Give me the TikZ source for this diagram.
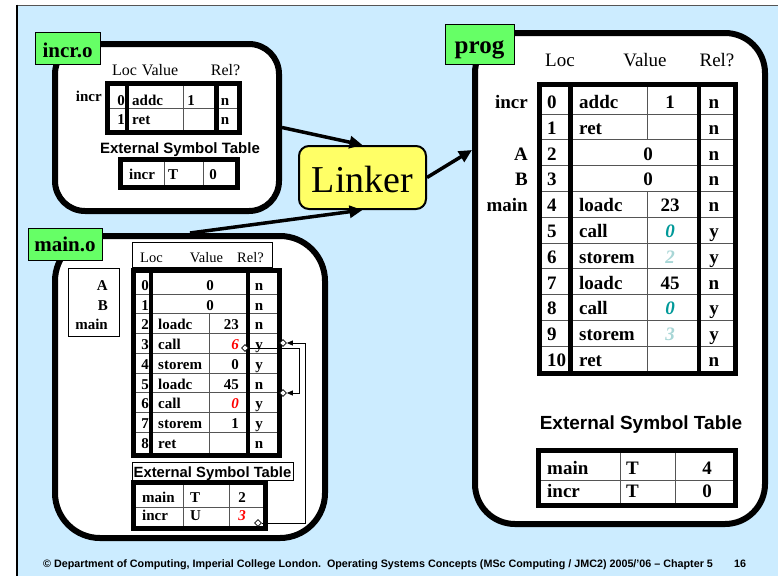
\documentclass[tikz,border=0pt]{standalone}
\usepackage{fontspec}
\setmainfont{Liberation Serif}
\setsansfont{Liberation Sans}
\usetikzlibrary{arrows.meta,shapes.geometric}

\definecolor{panel}{HTML}{CCECFF}
\definecolor{tagfill}{HTML}{66FF66}
\definecolor{linkfill}{HTML}{FFFF66}
\definecolor{relteal}{HTML}{009999}
\definecolor{relpale}{HTML}{A8D6D6}
\definecolor{rule}{HTML}{555555}

\newcommand\fsz[1]{\fontsize{#1}{#1}\selectfont}
\newcommand\vteal[1]{\textcolor{relteal}{\textit{#1}}}
\newcommand\vpale[1]{\textcolor{relpale}{\textit{#1}}}
\newcommand\vred[1]{\textcolor{red}{\textit{#1}}}

\begin{document}
\begin{tikzpicture}[x=1pt,y=-1pt,
  objbox/.style={draw=black,line width=6pt,fill=white,rounded corners=#1,inner sep=0pt},
  tagbox/.style={draw=black,line width=0.8pt,fill=tagfill,inner sep=0pt},
  tagtext/.style={inner sep=0pt,font=\fsz{21}\bfseries},
  thickrule/.style={line width=5pt},
  colrule/.style={line width=4.5pt},
  thinrule/.style={line width=1pt,draw=rule},
  framebox/.style={draw=black,line width=0.8pt},
  link/.style={line width=3.5pt,-{Triangle[length=13pt,width=12pt]}},
  ptr/.style={line width=0.8pt,-{Triangle[length=6pt,width=5pt]}},
  diam/.style={diamond,draw=black,fill=white,line width=0.7pt,inner sep=0pt,minimum width=7pt,minimum height=7pt},
  pcell/.style={inner sep=0pt,font=\fsz{19}\bfseries},
  phead/.style={inner sep=0pt,font=\fsz{19}},
  mcell/.style={inner sep=0pt,font=\fsz{15}\bfseries},
  mhead/.style={inner sep=0pt,font=\fsz{14.5}},
  ihead/.style={inner sep=0pt,font=\fsz{16}},
  esthead/.style={inner sep=0pt,font=\sffamily\bfseries\fsz{#1}},
  foot/.style={inner sep=0pt,anchor=base west,font=\sffamily\bfseries\fsz{10.75}},
]
\useasboundingbox (0,0) rectangle (778,576);

% slide background
\fill[panel] (17,5) rectangle (778,576);
\draw[line width=1pt,draw=rule] (17,5) -- (778,5);
\draw[line width=2.7pt] (17,4.5) -- (17,576);

% ---------------- object boxes ----------------
\node[objbox=30pt,minimum width=224pt,minimum height=167pt] (incrbox) at (167,127.5) {};
\node[objbox=45pt,minimum width=270pt,minimum height=302pt] (mainbox) at (190,387) {};
\node[objbox=40pt,minimum width=290pt,minimum height=491pt] (progbox) at (620,278.5) {};

% linker
\node[draw=black,line width=2pt,fill=linkfill,rounded corners=10pt,
      minimum width=127pt,minimum height=63pt,inner sep=0pt] (linker) at (362.5,177.5) {};
\node[inner sep=0pt,anchor=base,font=\fsz{38}] (linkertext) at (362.5,192) {Linker};

\coordinate (progin) at (472,150);
\draw[link] (incrbox.east) -- (linker.north);
\draw[link] (mainbox.north) -- (linker.south);
\draw[link] (linker.east) -- (progin);

% ---------------- incr.o ----------------
\node[tagbox,minimum width=65pt,minimum height=32pt] (incrtag) at (67.5,48) {};
\node[tagtext,anchor=base] (incrtagtext) at (67.5,57) {incr.o};

\node[ihead,anchor=base] (ihloc) at (124.5,75) {Loc};
\node[ihead,anchor=base] (ihval) at (160,75) {Value};
\node[ihead,anchor=base] (ihrel) at (225.5,75) {Rel?};

\draw[thinrule] (107.5,108) -- (239,108);
\draw[thinrule] (183,83.5) -- (183,132.5);
\draw[colrule] (127,83.5) -- (127,132.5);
\draw[colrule] (216.5,83.5) -- (216.5,132.5);
\draw[thickrule] (107.5,83.5) rectangle (239,132.5);

\node[mcell,anchor=base east] (isym) at (102,101) {incr};
\node[mcell,anchor=base east] (iloc0) at (125,105) {0};
\node[mcell,anchor=base west] (iop0) at (132,105) {addc};
\node[mcell,anchor=base] (ival0) at (191,105) {1};
\node[mcell,anchor=base] (irel0) at (225,105) {n};
\node[mcell,anchor=base east] (iloc1) at (125,124) {1};
\node[mcell,anchor=base west] (iop1) at (132,124) {ret};
\node[mcell,anchor=base] (irel1) at (225,124) {n};

\node[esthead=15,anchor=base] (iesthead) at (180,153) {External Symbol Table};
\draw[thinrule] (164,159.5) -- (164,187.5);
\draw[thinrule] (203,159.5) -- (203,187.5);
\draw[thickrule] (120,159.5) rectangle (237.5,187.5);
\node[mcell,anchor=base west] (iesym) at (129,179) {incr};
\node[mcell,anchor=base west] (ietype) at (168,179) {T};
\node[mcell,anchor=base] (ieval) at (213,179) {0};

% ---------------- main.o ----------------
\node[tagbox,minimum width=74pt,minimum height=32pt] (maintag) at (65,244) {};
\node[tagtext,anchor=base] (maintagtext) at (65,251) {main.o};

\draw[framebox] (68,268) rectangle (119,336);
\node[mcell,anchor=base east] (msymA) at (108,290.5) {A};
\node[mcell,anchor=base east] (msymB) at (108,310.2) {B};
\node[mcell,anchor=base east] (msymM) at (108,329.9) {main};

\draw[framebox] (132,242) rectangle (272,267);
\node[mhead,anchor=base] (mhloc) at (151.5,262) {Loc};
\node[mhead,anchor=base] (mhval) at (206.5,262) {Value};
\node[mhead,anchor=base] (mhrel) at (250.5,262) {Rel?};

\foreach \k in {1,...,8}
  \draw[thinrule] (133,{274.5+19.7*\k}) -- (279,{274.5+19.7*\k});
\draw[thinrule] (209,313.9) -- (209,455);
\draw[colrule] (151,270.5) -- (151,455.5);
\draw[colrule] (248,270.5) -- (248,455.5);
\draw[thickrule] (133,270.5) rectangle (279,455.5);

\foreach \k/\rel in {0/n,1/n,2/n,3/y,4/y,5/n,6/y,7/y,8/n}{
  \node[mcell,anchor=base east] (mloc\k) at (149,{290.5+19.7*\k}) {\k};
  \node[mcell,anchor=base] (mrel\k) at (259,{290.5+19.7*\k}) {\rel};
}
\node[mcell,anchor=base] (mval0) at (210,290.5) {0};
\node[mcell,anchor=base] (mval1) at (210,310.2) {0};
\foreach \k/\op/\val in {2/loadc/23,3/call/\vred{6},4/storem/0,5/loadc/45,6/call/\vred{0},7/storem/1,8/ret/}{
  \node[mcell,anchor=base west] (mop\k) at (158,{290.5+19.7*\k}) {\op};
  \node[mcell,anchor=base east] (mval\k) at (239,{290.5+19.7*\k}) {\val};
}

\draw[framebox] (132,462) rectangle (293,480);
\node[esthead=14.8,anchor=base] (mesthead) at (212.5,477) {External Symbol Table};
\draw[thinrule] (133.5,507) -- (265.5,507);
\draw[thinrule] (183,482.5) -- (183,528.5);
\draw[thinrule] (229,482.5) -- (229,528.5);
\draw[thickrule] (133.5,482.5) rectangle (265.5,528.5);
\node[mcell,anchor=base west] (mesym0) at (142,502) {main};
\node[mcell,anchor=base west] (metype0) at (190,502) {T};
\node[mcell,anchor=base] (meval0) at (242,502) {2};
\node[mcell,anchor=base west] (mesym1) at (142,520) {incr};
\node[mcell,anchor=base west] (metype1) at (190,520) {U};
\node[mcell,anchor=base] (meval1) at (242,520) {\vred{3}};

% relocation pointers
\node[diam] (dEst) at (258,523) {};
\node[diam] (dVal3) at (245,348) {};
\node[diam] (dRel3) at (283,343) {};
\node[diam] (dRel6) at (283,393) {};
\coordinate (bendA) at (305,523);
\coordinate (bendB) at (305,343);
\coordinate (bendC) at (299,348);
\coordinate (bendD) at (299,393);
\draw[ptr] (dEst.east) -- (bendA) -- (bendB) -- (dRel3.east);
\draw[ptr] (dVal3.east) -- (bendC) -- (bendD) -- (dRel6.east);

% ---------------- prog ----------------
\node[tagbox,minimum width=69pt,minimum height=40pt] (progtag) at (479.5,44) {};
\node[tagtext,font=\fsz{25}\bfseries,anchor=base] (progtagtext) at (479.5,53) {prog};

\node[phead,anchor=base] (phloc) at (560,66) {Loc};
\node[phead,anchor=base] (phval) at (645,66) {Value};
\node[phead,anchor=base] (phrel) at (717,66) {Rel?};

\foreach \k in {1,...,10}
  \draw[thinrule] (539,{88.3+25.8*\k}) -- (735,{88.3+25.8*\k});
\draw[thinrule] (647,84.5) -- (647,139.9);
\draw[thinrule] (647,191.5) -- (647,373.5);
\draw[colrule] (570.5,84.5) -- (570.5,376);
\draw[colrule] (699,84.5) -- (699,376);
\draw[thickrule] (539,84.5) rectangle (735,373.5);

\node[pcell,anchor=base east] (psymI) at (528,108.5) {incr};
\node[pcell,anchor=base east] (psymA) at (528,160.1) {A};
\node[pcell,anchor=base east] (psymB) at (528,185.9) {B};
\node[pcell,anchor=base east] (psymM) at (528,211.7) {main};

\foreach \k/\rel in {0/n,1/n,2/n,3/n,4/n,5/y,6/y,7/n,8/y,9/y,10/n}{
  \node[pcell,anchor=base west] (ploc\k) at (547,{108.5+25.8*\k}) {\k};
  \node[pcell,anchor=base] (prel\k) at (714,{108.5+25.8*\k}) {\rel};
}
\node[pcell,anchor=base] (pval2) at (648,160.1) {0};
\node[pcell,anchor=base] (pval3) at (648,185.9) {0};
\foreach \k/\op/\val in {0/addc/1,1/ret/,4/loadc/23,5/call/\vteal{0},6/storem/\vpale{2},7/loadc/45,8/call/\vteal{0},9/storem/\vpale{3},10/ret/}{
  \node[pcell,anchor=base west] (pop\k) at (579,{108.5+25.8*\k}) {\op};
  \node[pcell,anchor=base] (pval\k) at (670,{108.5+25.8*\k}) {\val};
}

\node[esthead=19,anchor=base] (pesthead) at (641,429) {External Symbol Table};
\draw[thinrule] (538.5,480.7) -- (735,480.7);
\draw[thinrule] (620,450) -- (620,505.5);
\draw[thinrule] (675,450) -- (675,505.5);
\draw[thickrule] (538.5,450) rectangle (735,505.5);
\node[pcell,anchor=base west] (pesym0) at (547,474) {main};
\node[pcell,anchor=base west] (petype0) at (626,474) {T};
\node[pcell,anchor=base] (peval0) at (707,474) {4};
\node[pcell,anchor=base west] (pesym1) at (547,497) {incr};
\node[pcell,anchor=base west] (petype1) at (626,497) {T};
\node[pcell,anchor=base] (peval1) at (707,497) {0};

% ---------------- footer ----------------
\node[foot] (footer) at (43,567)
  {© Department of Computing, Imperial College London.\ \ Operating Systems Concepts (MSc Computing / JMC2) 2005/'06 – Chapter 5};
\node[foot] (pageno) at (734,567) {16};
\end{tikzpicture}
\end{document}
